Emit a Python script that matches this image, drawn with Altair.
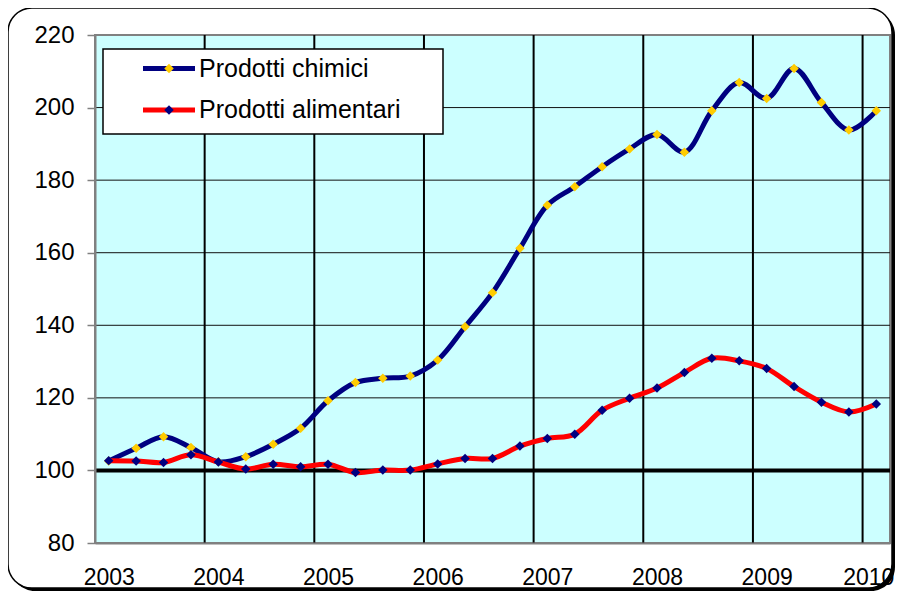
import altair as alt
import pandas as pd

# ---- data (quarterly, 2003 Q1 .. 2010 Q1) ----
year_labels = [2003, 2004, 2005, 2006, 2007, 2008, 2009, 2010]
quarter_years = [y for y in range(2003, 2010) for _ in range(4)] + [2010]
quarter_nums = [q for _ in range(2003, 2010) for q in (1, 2, 3, 4)] + [1]

chimici = [102.6, 106.1, 109.3, 106.3, 102.4, 103.8, 107.2, 111.6, 119.2, 124.2,
           125.4, 126.0, 130.4, 139.6, 149.0, 161.2, 173.1, 178.2, 183.7, 188.6,
           192.6, 187.7, 199.1, 206.9, 202.5, 210.8, 201.4, 193.8, 199.1]
alimentari = [102.7, 102.6, 102.2, 104.3, 102.3, 100.4, 101.7, 101.0, 101.7, 99.4,
              100.1, 100.1, 101.8, 103.3, 103.3, 106.7, 108.8, 110.0, 116.6, 119.9,
              122.7, 127.0, 130.9, 130.2, 128.1, 123.1, 118.8, 116.1, 118.3]
series_names = ["Prodotti chimici", "Prodotti alimentari"]
y_ticks = [80, 100, 120, 140, 160, 180, 200, 220]
hgrid = [120, 140, 160, 180, 200]
baseline = [100]

df = pd.DataFrame({
    "t": [y + (q - 1) / 4 for y, q in zip(quarter_years, quarter_nums)],
    "chimici": chimici,
    "alimentari": alimentari,
})
vgrid_df = pd.DataFrame({"t": [y - 0.125 for y in year_labels[1:]]})
hgrid_df = pd.DataFrame({"v": hgrid})
base_df = pd.DataFrame({"v": baseline})
one = pd.DataFrame({"a": [0]})

W, H = 795, 508
FONT = "Liberation Sans"
NAVY = "#000080"
YELLOW = "#FFCC00"
RED = "#FF0000"
CYAN = "#CCFFFF"
MSIZE = 90

xscale = alt.Scale(domain=[2002.875, 2010.125], nice=False, zero=False)
yscale = alt.Scale(domain=[80, 220], nice=False, zero=False)

# outer rounded frame with shadow
shadow = alt.Chart(one).mark_rect(fill="black", cornerRadius=24).encode(
    x=alt.value(-84), x2=alt.value(800), y=alt.value(-24), y2=alt.value(556))
frame = alt.Chart(one).mark_rect(fill="white", stroke="black", strokeWidth=1.5,
                                 cornerRadius=24).encode(
    x=alt.value(-87), x2=alt.value(797), y=alt.value(-27), y2=alt.value(553))

plot_bg = alt.Chart(one).mark_rect(fill=CYAN, stroke="#808080", strokeWidth=2).encode(
    x=alt.datum(2002.875, scale=xscale), x2=alt.datum(2010.125),
    y=alt.datum(80, scale=yscale), y2=alt.datum(220))

hgrid_layer = alt.Chart(hgrid_df).mark_rule(color="#111111", strokeWidth=1).encode(
    y=alt.Y("v:Q", scale=yscale))
vgrid_layer = alt.Chart(vgrid_df).mark_rule(color="black", strokeWidth=2).encode(
    x=alt.X("t:Q", scale=xscale))
base_layer = alt.Chart(base_df).mark_rule(color="black", strokeWidth=4).encode(
    y=alt.Y("v:Q", scale=yscale))

xaxis = alt.Axis(values=year_labels, format="d", title=None, grid=False, ticks=False,
                 tickSize=0, labelPadding=23, labelFontSize=23, labelFont=FONT,
                 labelColor="black", domainColor="#808080", domainWidth=2,
                 labelOffset={"condition": {"test": "datum.value == 2010", "value": -8},
                              "value": 0},
                 labelFlush=False, labelOverlap=False, zindex=1)
yaxis = alt.Axis(values=y_ticks, title=None, grid=False, tickSize=8, tickColor="#808080",
                 tickWidth=1.5, labelPadding=13, labelFontSize=24, labelFont=FONT,
                 labelColor="black", domainColor="#808080", domainWidth=2,
                 labelFlush=False, labelOverlap=False, zindex=1)

base = alt.Chart(df)
line_c = base.mark_line(color=NAVY, strokeWidth=5, interpolate="catmull-rom").encode(
    x=alt.X("t:Q", scale=xscale, axis=xaxis),
    y=alt.Y("chimici:Q", scale=yscale, axis=yaxis))
pts_c = base.mark_point(shape="diamond", filled=True, size=MSIZE, color=YELLOW, opacity=1).encode(
    x=alt.X("t:Q", scale=xscale), y=alt.Y("chimici:Q", scale=yscale))
line_a = base.mark_line(color=RED, strokeWidth=5, interpolate="catmull-rom").encode(
    x=alt.X("t:Q", scale=xscale), y=alt.Y("alimentari:Q", scale=yscale))
pts_a = base.mark_point(shape="diamond", filled=True, size=MSIZE, color=NAVY, opacity=1).encode(
    x=alt.X("t:Q", scale=xscale), y=alt.Y("alimentari:Q", scale=yscale))

# legend box
leg_box = alt.Chart(one).mark_rect(fill="white", stroke="black", strokeWidth=1.5).encode(
    x=alt.value(8), x2=alt.value(348), y=alt.value(14), y2=alt.value(99))
leg_layers = []
for name, lcol, mcol, ypix in [(series_names[0], NAVY, YELLOW, 33.5),
                                (series_names[1], RED, NAVY, 75)]:
    ldf = pd.DataFrame({"serie": [name]})
    leg_layers.append(alt.Chart(ldf).mark_rule(color=lcol, strokeWidth=5).encode(
        x=alt.value(48), x2=alt.value(100), y=alt.value(ypix)))
    leg_layers.append(alt.Chart(ldf).mark_point(shape="diamond", filled=True, size=MSIZE,
                                                color=mcol, opacity=1).encode(
        x=alt.value(74), y=alt.value(ypix)))
    leg_layers.append(alt.Chart(ldf).mark_text(align="left", baseline="middle", fontSize=25,
                                               font=FONT, color="black").encode(
        x=alt.value(104), y=alt.value(ypix), text="serie:N"))

chart = alt.layer(
    shadow, frame, plot_bg, hgrid_layer, vgrid_layer, base_layer,
    line_c, pts_c, line_a, pts_a, leg_box, *leg_layers
).properties(
    width=W, height=H,
    autosize=alt.AutoSizeParams(type="none"),
    padding={"left": 87, "top": 27, "right": 6, "bottom": 48},
    background="white",
).configure_view(stroke=None)

chart.save("out.html", embed_options={"renderer": "svg", "actions": False})
